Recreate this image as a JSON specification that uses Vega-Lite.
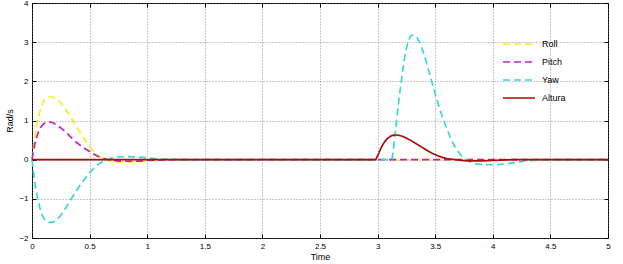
{
  "$schema": "https://vega.github.io/schema/vega-lite/v6.json",
  "width": 576,
  "height": 235,
  "autosize": {"type": "none"},
  "padding": {"left": 32, "top": 3, "right": 15, "bottom": 26},
  "background": "white",
  "config": {
    "view": {"stroke": "black", "strokeWidth": 1},
    "font": "Liberation Sans",
    "axis": {
      "gridColor": "#777",
      "gridDash": [1, 2],
      "gridOpacity": 0.8,
      "domain": false,
      "tickColor": "black",
      "tickSize": -4,
      "labelFontSize": 8,
      "labelColor": "black",
      "titleFontSize": 9,
      "titleFontWeight": "normal",
      "titleColor": "black",
      "format": "~g"
    }
  },
  "data": {"values": [
    {"t":0,"v":0,"s":"Roll"},{"t":0.025,"v":0.6,"s":"Roll"},{"t":0.05,"v":1.0,"s":"Roll"},{"t":0.075,"v":1.3,"s":"Roll"},{"t":0.1,"v":1.48,"s":"Roll"},{"t":0.125,"v":1.57,"s":"Roll"},{"t":0.15,"v":1.6,"s":"Roll"},{"t":0.175,"v":1.6,"s":"Roll"},{"t":0.2,"v":1.57,"s":"Roll"},{"t":0.25,"v":1.45,"s":"Roll"},{"t":0.3,"v":1.25,"s":"Roll"},{"t":0.35,"v":1.02,"s":"Roll"},{"t":0.4,"v":0.78,"s":"Roll"},{"t":0.45,"v":0.55,"s":"Roll"},{"t":0.5,"v":0.33,"s":"Roll"},{"t":0.55,"v":0.17,"s":"Roll"},{"t":0.6,"v":0.06,"s":"Roll"},{"t":0.65,"v":0,"s":"Roll"},{"t":0.7,"v":-0.04,"s":"Roll"},{"t":0.8,"v":-0.06,"s":"Roll"},{"t":0.9,"v":-0.05,"s":"Roll"},{"t":1.0,"v":-0.03,"s":"Roll"},{"t":1.1,"v":-0.01,"s":"Roll"},{"t":1.25,"v":0,"s":"Roll"},{"t":5,"v":0,"s":"Roll"},
    {"t":0,"v":0,"s":"Pitch"},{"t":0.025,"v":0.4,"s":"Pitch"},{"t":0.05,"v":0.66,"s":"Pitch"},{"t":0.075,"v":0.82,"s":"Pitch"},{"t":0.1,"v":0.91,"s":"Pitch"},{"t":0.125,"v":0.95,"s":"Pitch"},{"t":0.15,"v":0.96,"s":"Pitch"},{"t":0.175,"v":0.95,"s":"Pitch"},{"t":0.2,"v":0.91,"s":"Pitch"},{"t":0.25,"v":0.81,"s":"Pitch"},{"t":0.3,"v":0.68,"s":"Pitch"},{"t":0.35,"v":0.54,"s":"Pitch"},{"t":0.4,"v":0.41,"s":"Pitch"},{"t":0.45,"v":0.3,"s":"Pitch"},{"t":0.5,"v":0.21,"s":"Pitch"},{"t":0.55,"v":0.12,"s":"Pitch"},{"t":0.6,"v":0.05,"s":"Pitch"},{"t":0.65,"v":0.01,"s":"Pitch"},{"t":0.7,"v":-0.02,"s":"Pitch"},{"t":0.8,"v":-0.04,"s":"Pitch"},{"t":0.9,"v":-0.04,"s":"Pitch"},{"t":1.0,"v":-0.02,"s":"Pitch"},{"t":1.1,"v":-0.01,"s":"Pitch"},{"t":1.25,"v":0,"s":"Pitch"},{"t":5,"v":0,"s":"Pitch"},
    {"t":0,"v":0,"s":"Yaw"},{"t":0.025,"v":-0.6,"s":"Yaw"},{"t":0.05,"v":-1.0,"s":"Yaw"},{"t":0.075,"v":-1.3,"s":"Yaw"},{"t":0.1,"v":-1.48,"s":"Yaw"},{"t":0.125,"v":-1.57,"s":"Yaw"},{"t":0.15,"v":-1.6,"s":"Yaw"},{"t":0.175,"v":-1.6,"s":"Yaw"},{"t":0.2,"v":-1.56,"s":"Yaw"},{"t":0.25,"v":-1.42,"s":"Yaw"},{"t":0.3,"v":-1.2,"s":"Yaw"},{"t":0.35,"v":-0.96,"s":"Yaw"},{"t":0.4,"v":-0.73,"s":"Yaw"},{"t":0.45,"v":-0.52,"s":"Yaw"},{"t":0.5,"v":-0.34,"s":"Yaw"},{"t":0.55,"v":-0.18,"s":"Yaw"},{"t":0.6,"v":-0.07,"s":"Yaw"},{"t":0.65,"v":0,"s":"Yaw"},{"t":0.7,"v":0.05,"s":"Yaw"},{"t":0.8,"v":0.08,"s":"Yaw"},{"t":0.9,"v":0.07,"s":"Yaw"},{"t":1.0,"v":0.05,"s":"Yaw"},{"t":1.1,"v":0.02,"s":"Yaw"},{"t":1.2,"v":0.01,"s":"Yaw"},{"t":1.3,"v":0,"s":"Yaw"},{"t":3.12,"v":0,"s":"Yaw"},{"t":3.15,"v":0.6,"s":"Yaw"},{"t":3.18,"v":1.4,"s":"Yaw"},{"t":3.21,"v":2.1,"s":"Yaw"},{"t":3.24,"v":2.7,"s":"Yaw"},{"t":3.27,"v":3.05,"s":"Yaw"},{"t":3.3,"v":3.18,"s":"Yaw"},{"t":3.33,"v":3.15,"s":"Yaw"},{"t":3.36,"v":3.02,"s":"Yaw"},{"t":3.4,"v":2.72,"s":"Yaw"},{"t":3.45,"v":2.2,"s":"Yaw"},{"t":3.5,"v":1.68,"s":"Yaw"},{"t":3.55,"v":1.2,"s":"Yaw"},{"t":3.6,"v":0.8,"s":"Yaw"},{"t":3.65,"v":0.45,"s":"Yaw"},{"t":3.7,"v":0.2,"s":"Yaw"},{"t":3.75,"v":0.04,"s":"Yaw"},{"t":3.8,"v":-0.05,"s":"Yaw"},{"t":3.85,"v":-0.1,"s":"Yaw"},{"t":3.9,"v":-0.12,"s":"Yaw"},{"t":4.0,"v":-0.13,"s":"Yaw"},{"t":4.1,"v":-0.11,"s":"Yaw"},{"t":4.2,"v":-0.07,"s":"Yaw"},{"t":4.3,"v":-0.03,"s":"Yaw"},{"t":4.4,"v":-0.01,"s":"Yaw"},{"t":4.5,"v":0,"s":"Yaw"},{"t":5,"v":0,"s":"Yaw"},
    {"t":0,"v":0,"s":"Altura"},{"t":2.98,"v":0,"s":"Altura"},{"t":3.0,"v":0.1,"s":"Altura"},{"t":3.03,"v":0.3,"s":"Altura"},{"t":3.06,"v":0.45,"s":"Altura"},{"t":3.1,"v":0.57,"s":"Altura"},{"t":3.13,"v":0.62,"s":"Altura"},{"t":3.16,"v":0.63,"s":"Altura"},{"t":3.2,"v":0.61,"s":"Altura"},{"t":3.25,"v":0.55,"s":"Altura"},{"t":3.3,"v":0.47,"s":"Altura"},{"t":3.35,"v":0.38,"s":"Altura"},{"t":3.4,"v":0.29,"s":"Altura"},{"t":3.45,"v":0.2,"s":"Altura"},{"t":3.5,"v":0.13,"s":"Altura"},{"t":3.55,"v":0.07,"s":"Altura"},{"t":3.6,"v":0.03,"s":"Altura"},{"t":3.65,"v":0.01,"s":"Altura"},{"t":3.7,"v":-0.01,"s":"Altura"},{"t":3.8,"v":-0.03,"s":"Altura"},{"t":3.9,"v":-0.03,"s":"Altura"},{"t":4.0,"v":-0.02,"s":"Altura"},{"t":4.2,"v":0,"s":"Altura"},{"t":5,"v":0,"s":"Altura"}
  ]},
  "layer": [
    {
      "mark": {"type": "line", "strokeWidth": 1.7, "interpolate": "monotone"},
      "encoding": {
        "x": {
          "field": "t", "type": "quantitative", "title": "Time",
          "scale": {"domain": [0, 5], "nice": false},
          "axis": {"orient": "bottom", "values": [0,0.5,1,1.5,2,2.5,3,3.5,4,4.5,5], "labelPadding": 8, "titlePadding": 2, "labelFlush": false}
        },
        "y": {
          "field": "v", "type": "quantitative", "title": "Rad/s",
          "scale": {"domain": [-2, 4], "nice": false},
          "axis": {"orient": "left", "values": [-2,-1,0,1,2,3,4], "labelPadding": 8, "titlePadding": 4, "labelFlush": false}
        },
        "color": {
          "field": "s", "type": "nominal", "title": null,
          "scale": {"domain": ["Roll","Pitch","Yaw","Altura"], "range": ["#f2f01e","#c21ec8","#3ad6d6","#a80c0c"]},
          "legend": {"orient": "none", "legendX": 481, "legendY": 35, "symbolType": "M-3.2,0H3.2", "symbolSize": 100, "symbolStrokeWidth": 1.6, "symbolDash": [6,4], "rowPadding": 7, "labelFontSize": 9, "labelOffset": 17, "padding": 0}
        },
        "strokeDash": {
          "field": "s", "type": "nominal",
          "scale": {"domain": ["Roll","Pitch","Yaw","Altura"], "range": [[7,4],[7,4],[7,4],[1,0]]},
          "legend": null
        },
        "order": {"field": "t", "type": "quantitative"}
      }
    },
    {
      "mark": {"type": "point", "opacity": 0},
      "encoding": {
        "x": {
          "field": "t", "type": "quantitative",
          "axis": {"orient": "top", "values": [0,0.5,1,1.5,2,2.5,3,3.5,4,4.5,5], "labels": false, "grid": false, "title": null}
        },
        "y": {
          "field": "v", "type": "quantitative",
          "axis": {"orient": "right", "values": [-2,-1,0,1,2,3,4], "labels": false, "grid": false, "title": null}
        }
      }
    }
  ],
  "resolve": {"axis": {"x": "independent", "y": "independent"}}
}
